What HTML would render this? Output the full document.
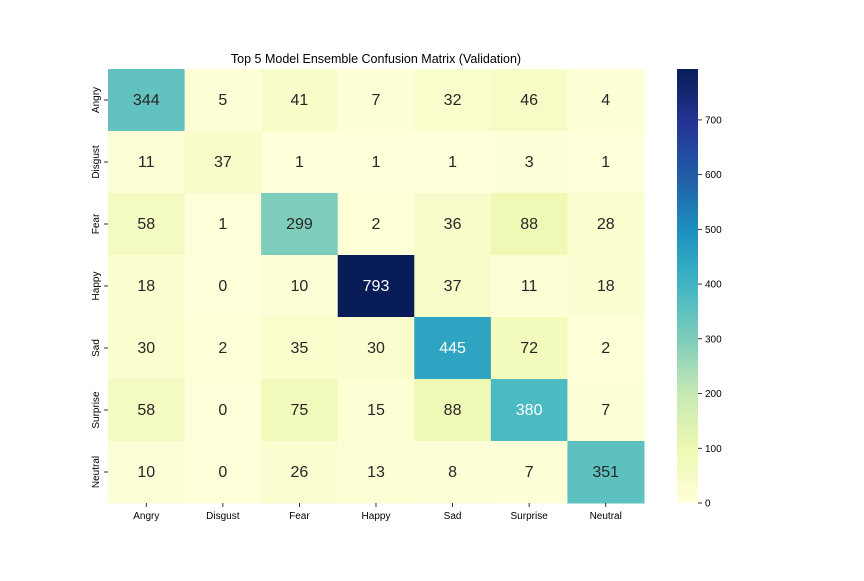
<!DOCTYPE html>
<html><head><meta charset="utf-8"><style>
body{margin:0;background:#fff;font-family:"Liberation Sans",sans-serif;}
</style></head><body>
<svg id="chart" width="864" height="576" xmlns="http://www.w3.org/2000/svg">
<rect width="864" height="576" fill="#fff"/>
<text x="376" y="63" text-anchor="middle" font-size="12.5" fill="#000">Top 5 Model Ensemble Confusion Matrix (Validation)</text>
<g id="cells"></g>
<g id="xticks"></g>
<g id="yticks"></g>
<defs><linearGradient id="cbg" x1="0" y1="1" x2="0" y2="0"></linearGradient></defs>
<g id="cbar"></g>
</svg>
<script>
const labels=["Angry","Disgust","Fear","Happy","Sad","Surprise","Neutral"];
const matrix=[
[344,5,41,7,32,46,4],
[11,37,1,1,1,3,1],
[58,1,299,2,36,88,28],
[18,0,10,793,37,11,18],
[30,2,35,30,445,72,2],
[58,0,75,15,88,380,7],
[10,0,26,13,8,7,351]];
const cbTicks=[0,100,200,300,400,500,600,700];
const stops=["#ffffd9","#edf8b1","#c7e9b4","#7fcdbb","#41b6c4","#1d91c0","#225ea8","#253494","#081d58"];
const NS="http://www.w3.org/2000/svg";
const X0=108,Y0=69,W=536,H=434,n=labels.length,cw=W/n,ch=H/n;
const vmin=0,vmax=Math.max(...matrix.flat());
function hex(h){return [1,3,5].map(i=>parseInt(h.substr(i,2),16));}
function color(v){let t=(v-vmin)/(vmax-vmin)*(stops.length-1);let i=Math.min(Math.floor(t),stops.length-2),f=t-i;
const a=hex(stops[i]),b=hex(stops[i+1]);return "rgb("+a.map((x,k)=>Math.round(x+(b[k]-x)*f)).join(",")+")";}
function lum(v){const c=color(v).match(/\d+/g).map(Number).map(x=>{x/=255;return x<=0.03928?x/12.92:Math.pow((x+0.055)/1.055,2.4)});return 0.2126*c[0]+0.7152*c[1]+0.0722*c[2];}
function el(tag,attrs,parent){const e=document.createElementNS(NS,tag);for(const k in attrs)e.setAttribute(k,attrs[k]);parent.appendChild(e);return e;}
const cells=document.getElementById("cells");
matrix.forEach((row,r)=>row.forEach((v,c)=>{
 const rect=el("rect",{x:X0+c*cw,y:Y0+r*ch,width:cw+0.5,height:ch+0.5,fill:color(v)},cells);
 
 
 const t=el("text",{x:X0+(c+0.5)*cw,y:Y0+(r+0.5)*ch+5,"text-anchor":"middle","font-size":"16",fill:lum(v)>0.408?"#262626":"#ffffff"},cells);
 t.textContent=v;
 
 
}));
const xt=document.getElementById("xticks"),yt=document.getElementById("yticks");
labels.forEach((l,i)=>{
 const x=X0+(i+0.5)*cw;
 const tk=el("line",{x1:x,x2:x,y1:Y0+H,y2:Y0+H+4,stroke:"#000","stroke-width":0.8},xt);
 
 
 const t=el("text",{x:x,y:Y0+H+16,"text-anchor":"middle","font-size":"10",fill:"#000"},xt);
 t.textContent=l;
 
 
 const y=Y0+(i+0.5)*ch;
 const tk2=el("line",{x1:X0-4,x2:X0,y1:y,y2:y,stroke:"#000","stroke-width":0.8},yt);
 
 
 const t2=el("text",{x:0,y:0,"text-anchor":"middle","font-size":"10",fill:"#000",transform:"translate("+(X0-9)+","+y+") rotate(-90)"},yt);
 t2.textContent=l;
 
 
});
const grad=document.getElementById("cbg");
stops.forEach((s,i)=>el("stop",{offset:(i/(stops.length-1)),"stop-color":s},grad));
const cb=document.getElementById("cbar");
const CX=677,CW=21;
const bar=el("rect",{x:CX,y:Y0,width:CW,height:H,fill:"url(#cbg)"},cb);


cbTicks.forEach(v=>{
 const y=Y0+H-(v-vmin)/(vmax-vmin)*H;
 const tk=el("line",{x1:CX+CW,x2:CX+CW+4,y1:y,y2:y,stroke:"#000","stroke-width":0.8},cb);
 
 
 const t=el("text",{x:CX+CW+7,y:y+3.5,"font-size":"10",fill:"#000"},cb);
 t.textContent=v;
 
 
});
</script>
</body></html>
